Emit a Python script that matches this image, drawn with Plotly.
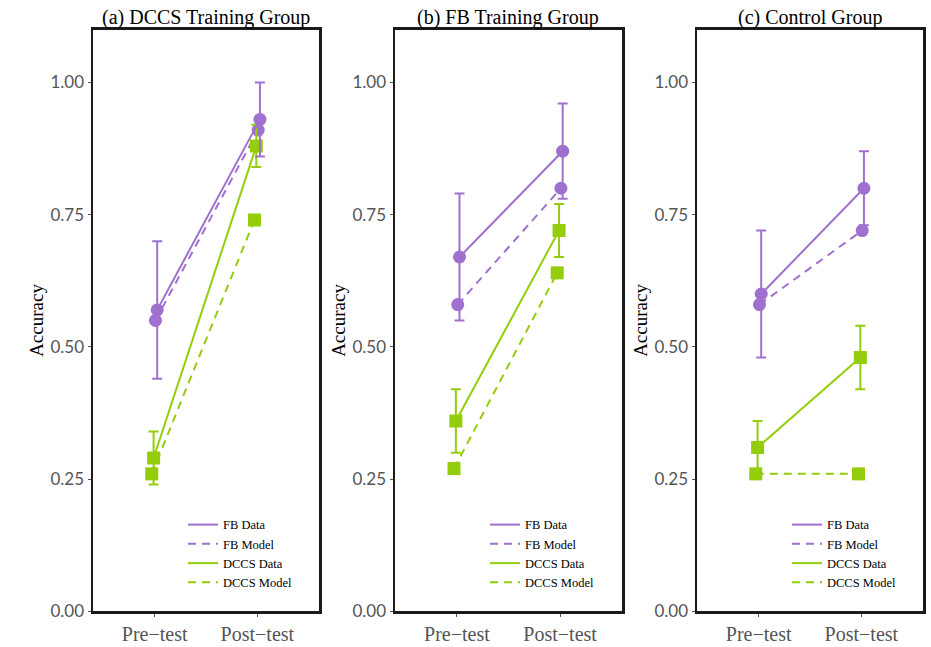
import plotly.graph_objects as go

# ---- data ----
panels = ["(a) DCCS Training Group", "(b) FB Training Group", "(c) Control Group"]
sessions = ["Pre\u2212test", "Post\u2212test"]

fb_data = [[0.57, 0.93], [0.67, 0.87], [0.60, 0.80]]
fb_lo = [[0.44, 0.86], [0.55, 0.78], [0.48, 0.73]]
fb_hi = [[0.70, 1.00], [0.79, 0.96], [0.72, 0.87]]
fb_model = [[0.55, 0.91], [0.58, 0.80], [0.58, 0.72]]

dccs_data = [[0.29, 0.88], [0.36, 0.72], [0.31, 0.48]]
dccs_lo = [[0.24, 0.84], [0.30, 0.67], [0.26, 0.42]]
dccs_hi = [[0.34, 0.92], [0.42, 0.77], [0.36, 0.54]]
dccs_model = [[0.26, 0.74], [0.27, 0.64], [0.26, 0.26]]

yticks = [0.0, 0.25, 0.50, 0.75, 1.00]
ytick_labels = ["0.00", "0.25", "0.50", "0.75", "1.00"]

PURPLE = "#a070cf"
GREEN = "#93cd0b"
SERIF = "Liberation Serif"
SANS = "Lato"
DASH = "8px,6px"

W, H = 931, 647
xdom = [(93, 319), (395, 622), (697, 923)]
ytop, ybot = 30, 621


def px(xp):
    return xp / W


def py(yp):
    return 1 - yp / H


fig = go.Figure()
base = [1, 2]
offs = {"fbd": 0.025, "fbm": 0.008, "dcd": -0.01, "dcm": -0.028}

legend_names = ["legend", "legend2", "legend3"]

for i in range(3):
    xa = "x" if i == 0 else f"x{i+1}"
    ya = "y" if i == 0 else f"y{i+1}"
    lg = legend_names[i]

    def xs(k):
        return [b + offs[k] for b in base]

    fig.add_trace(go.Scatter(x=xs("dcm"), y=dccs_model[i], mode="lines+markers",
                             line=dict(color=GREEN, width=2, dash=DASH),
                             marker=dict(symbol="square", size=13, color=GREEN),
                             showlegend=False, hoverinfo="skip", xaxis=xa, yaxis=ya))
    fig.add_trace(go.Scatter(x=xs("fbm"), y=fb_model[i], mode="lines+markers",
                             line=dict(color=PURPLE, width=2, dash=DASH),
                             marker=dict(symbol="circle", size=13, color=PURPLE),
                             showlegend=False, hoverinfo="skip", xaxis=xa, yaxis=ya))
    fig.add_trace(go.Scatter(x=xs("dcd"), y=dccs_data[i], mode="lines+markers",
                             line=dict(color=GREEN, width=2),
                             marker=dict(symbol="square", size=13, color=GREEN),
                             error_y=dict(type="data", symmetric=False,
                                          array=[h - v for h, v in zip(dccs_hi[i], dccs_data[i])],
                                          arrayminus=[v - l for l, v in zip(dccs_lo[i], dccs_data[i])],
                                          color=GREEN, thickness=2, width=5),
                             showlegend=False, hoverinfo="skip", xaxis=xa, yaxis=ya))
    fig.add_trace(go.Scatter(x=xs("fbd"), y=fb_data[i], mode="lines+markers",
                             line=dict(color=PURPLE, width=2),
                             marker=dict(symbol="circle", size=13, color=PURPLE),
                             error_y=dict(type="data", symmetric=False,
                                          array=[h - v for h, v in zip(fb_hi[i], fb_data[i])],
                                          arrayminus=[v - l for l, v in zip(fb_lo[i], fb_data[i])],
                                          color=PURPLE, thickness=2, width=5),
                             showlegend=False, hoverinfo="skip", xaxis=xa, yaxis=ya))
    for name, col, dash in [("FB Data", PURPLE, "solid"), ("FB Model", PURPLE, DASH),
                            ("DCCS Data", GREEN, "solid"), ("DCCS Model", GREEN, DASH)]:
        fig.add_trace(go.Scatter(x=[None], y=[None], mode="lines", name=name,
                                 line=dict(color=col, width=2, dash=dash),
                                 legend=lg, showlegend=True, xaxis=xa, yaxis=ya))

layout = dict(
    width=W, height=H,
    margin=dict(l=0, r=0, t=0, b=0),
    paper_bgcolor="white", plot_bgcolor="white",
    showlegend=True,
    hovermode=False,
    annotations=[],
)

for i in range(3):
    x0, x1 = xdom[i]
    sfx = "" if i == 0 else str(i + 1)
    layout[f"xaxis{sfx}"] = dict(
        domain=[px(x0), px(x1)], range=[0.4, 2.6],
        tickvals=base, ticktext=sessions,
        showgrid=False, zeroline=False,
        showline=True, linecolor="#1a1a1a", linewidth=2.5, mirror=True,
        ticks="outside", ticklen=3, tickcolor="#555555",
        tickfont=dict(family=SERIF, size=20, color="#555555"),
        anchor=f"y{sfx}", fixedrange=True,
    )
    layout[f"yaxis{sfx}"] = dict(
        domain=[py(ybot), py(ytop)], range=[0, 1.1],
        tickvals=yticks, ticktext=ytick_labels,
        showgrid=False, zeroline=False,
        showline=True, linecolor="#1a1a1a", linewidth=2.5, mirror=True,
        ticks="outside", ticklen=3, tickcolor="#555555",
        tickfont=dict(family=SANS, size=17, color="#555555"),
        title=dict(text="Accuracy", font=dict(family=SERIF, size=19, color="black"), standoff=2),
        anchor=f"x{sfx}", fixedrange=True,
    )
    layout["annotations"].append(dict(
        text=panels[i], xref="paper", yref="paper",
        x=px((x0 + x1) / 2), y=py(18), xanchor="center", yanchor="middle",
        showarrow=False, font=dict(family=SERIF, size=20, color="black")))
    layout[legend_names[i]] = dict(
        x=px(x0 + 90), y=py(518), xanchor="left", yanchor="top",
        bgcolor="rgba(0,0,0,0)", borderwidth=0,
        font=dict(family=SERIF, size=12.5, color="black"),
        tracegroupgap=0, itemwidth=30,
    )

fig.update_layout(**layout)
fig.write_html(
    "out.html",
    config={"displayModeBar": False, "staticPlot": True},
    post_script="document.body.style.margin='0';"
                "document.body.style.overflow='hidden';"
                "document.documentElement.style.overflow='hidden';",
)
